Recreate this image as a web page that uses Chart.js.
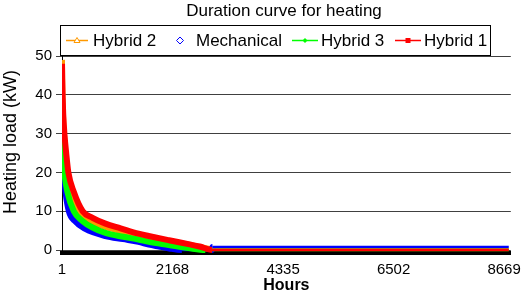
<!DOCTYPE html>
<html>
<head>
<meta charset="utf-8">
<script src="https://cdn.jsdelivr.net/npm/chart.js@4.4.1/dist/chart.umd.min.js"></script>
<style>
  html, body { margin: 0; padding: 0; background: #fff; }
  #wrap { width: 529px; height: 296px; }
</style>
</head>
<body>
<div id="wrap"><canvas id="chart"></canvas></div>
<script>
// values
var xTicks = [1, 2168, 4335, 6502, 8669];
var yTicks = [0, 10, 20, 30, 40, 50];

var hybrid2Hours = [1, 5, 12, 30, 60, 100, 190, 330, 500, 800, 1200, 1700, 2100, 2500, 2800, 2950, 8760];
var hybrid2Load  = [49, 44, 38, 32, 26, 20, 15, 10, 8, 6.2, 4.8, 3.2, 2.2, 1.3, 0.5, 0.2, 0.2];

var mechHours = [1, 4, 8, 15, 40, 70, 135, 250, 450, 853, 1200, 1500, 1705, 1900, 2100, 2350, 2940, 2950, 8760];
var mechLoad  = [41, 34, 30, 25, 20, 15, 10, 7.5, 5.5, 3.6, 2.8, 2.1, 1.4, 0.9, 0.4, 0, 0, 0.75, 0.75];

var hybrid3Hours = [1, 5, 10, 25, 48, 107, 232, 400, 600, 853, 1200, 1500, 1705, 2093, 2480, 2810, 8760];
var hybrid3Load  = [40, 36, 30, 25, 20, 15, 10, 7.5, 5.8, 4.4, 3.4, 2.7, 2.1, 1.3, 0.5, 0, 0];

var hybrid1Hours = [1, 5, 12, 25, 48, 83, 126, 232, 407, 600, 853, 1150, 1500, 1700, 2100, 2480, 2700, 2940, 8760];
var hybrid1Load  = [48, 44, 40, 35, 30, 25, 20, 15, 10, 8.3, 6.8, 5.6, 4.2, 3.6, 2.5, 1.5, 0.9, 0, 0];

var seriesNames = ['Hybrid 2', 'Mechanical', 'Hybrid 3', 'Hybrid 1'];
var seriesColors = ['#FF9900', '#0000FF', '#00FF00', '#FF0000'];

function pairs(hours, load) {
  return hours.map(function (h, i) { return {x: h, y: load[i]}; });
}

function makeSet(i, hours, load) {
  return {
    label: seriesNames[i],
    data: pairs(hours, load),
    borderColor: seriesColors[i],
    backgroundColor: seriesColors[i],
    borderWidth: 6,
    pointRadius: 0,
    cubicInterpolationMode: 'monotone',
    order: 4 - i,
    segment: {
      borderWidth: function (ctx) {
        return ctx.p0.parsed.y === ctx.p1.parsed.y ? 2.5 : 6;
      }
    }
  };
}

var font = 'Liberation Sans, Arial, sans-serif';

function drawMarker(ctx, kind, x, y, color) {
  ctx.strokeStyle = color;
  ctx.fillStyle = color;
  ctx.lineWidth = 1;
  ctx.beginPath();
  if (kind === 'triangle') {
    ctx.moveTo(x, y - 3); ctx.lineTo(x + 3, y + 2); ctx.lineTo(x - 3, y + 2); ctx.closePath();
    ctx.fillStyle = '#fff'; ctx.fill(); ctx.stroke();
  } else if (kind === 'diamond') {
    ctx.moveTo(x, y - 3.5); ctx.lineTo(x + 3.5, y); ctx.lineTo(x, y + 3.5); ctx.lineTo(x - 3.5, y); ctx.closePath();
    ctx.fillStyle = '#fff'; ctx.fill(); ctx.stroke();
  } else if (kind === 'dot') {
    ctx.moveTo(x, y - 2.5); ctx.lineTo(x + 2.5, y); ctx.lineTo(x, y + 2.5); ctx.lineTo(x - 2.5, y); ctx.closePath();
    ctx.fill();
  } else {
    ctx.rect(x - 2.5, y - 2.5, 5, 5);
    ctx.fill();
  }
}

var decorations = {
  id: 'decorations',
  afterDraw: function (chart) {
    var ctx = chart.ctx;
    ctx.save();
    // title
    ctx.fillStyle = '#000';
    ctx.font = '17px ' + font;
    ctx.textAlign = 'center';
    ctx.textBaseline = 'middle';
    ctx.fillText('Duration curve for heating', 284, 11);

    // y axis title, sits a bit above the middle of the plot like the original
    ctx.save();
    ctx.translate(16, 142);
    ctx.rotate(-Math.PI / 2);
    ctx.font = '18px ' + font;
    ctx.textBaseline = 'alphabetic';
    ctx.fillText('Heating load (kW)', 0, 0);
    ctx.restore();

    // legend box
    ctx.fillStyle = '#fff';
    ctx.fillRect(60.5, 25.5, 430, 30);
    ctx.strokeStyle = '#000';
    ctx.lineWidth = 1;
    ctx.strokeRect(60.5, 25.5, 430, 30);

    var items = [
      {line: [66, 88], mark: 77, kind: 'triangle', text: 93},
      {line: null, mark: 180, kind: 'diamond', text: 196},
      {line: [292, 318], mark: 305, kind: 'dot', text: 321},
      {line: [395, 421], mark: 408, kind: 'square', text: 424}
    ];
    var ly = 40.5;
    items.forEach(function (it, i) {
      var c = seriesColors[i];
      if (it.line) {
        ctx.strokeStyle = c;
        ctx.lineWidth = 1.5;
        ctx.beginPath();
        ctx.moveTo(it.line[0], ly);
        ctx.lineTo(it.line[1], ly);
        ctx.stroke();
      }
      drawMarker(ctx, it.kind, it.mark, ly, c);
      ctx.fillStyle = '#000';
      ctx.font = '17px ' + font;
      ctx.textAlign = 'left';
      ctx.textBaseline = 'middle';
      ctx.fillText(seriesNames[i], it.text, ly + 1);
    });
    ctx.restore();
  }
};

var chart = new Chart(document.getElementById('chart'), {
  type: 'line',
  data: {
    datasets: [
      makeSet(0, hybrid2Hours, hybrid2Load),
      makeSet(1, mechHours, mechLoad),
      makeSet(2, hybrid3Hours, hybrid3Load),
      makeSet(3, hybrid1Hours, hybrid1Load)
    ]
  },
  options: {
    responsive: true,
    maintainAspectRatio: false,
    animation: false,
    layout: {padding: {top: 56, right: 13, left: 0, bottom: 0}},
    plugins: {
      legend: {display: false},
      title: {display: false},
      tooltip: {enabled: false}
    },
    scales: {
      x: {
        type: 'linear',
        min: 1,
        max: 8800,
        z: 1,
        afterFit: function (scale) { scale.height = 42.7; },
        afterBuildTicks: function (scale) {
          scale.ticks = xTicks.map(function (v) { return {value: v}; });
        },
        grid: {display: false, drawTicks: false},
        border: {display: true, color: '#000', width: 4},
        ticks: {
          color: '#000',
          font: {family: font, size: 15},
          padding: 8,
          maxRotation: 0,
          autoSkip: false,
          callback: function (v) { return String(v); }
        },
        title: {
          display: true,
          text: 'Hours',
          color: '#000',
          font: {family: font, size: 16, weight: 'bold'},
          padding: {top: 0, bottom: 1}
        }
      },
      y: {
        min: -0.85,
        max: 50,
        afterFit: function (scale) { scale.width = 62; },
        afterBuildTicks: function (scale) {
          scale.ticks = yTicks.map(function (v) { return {value: v}; });
        },
        grid: {color: '#404040', lineWidth: 1, tickLength: 6, tickColor: '#404040'},
        border: {display: true, color: '#000', width: 1},
        ticks: {
          color: '#000',
          font: {family: font, size: 15},
          padding: 4
        },
        title: {display: false}
      }
    }
  },
  plugins: [decorations]
});
</script>
</body>
</html>
